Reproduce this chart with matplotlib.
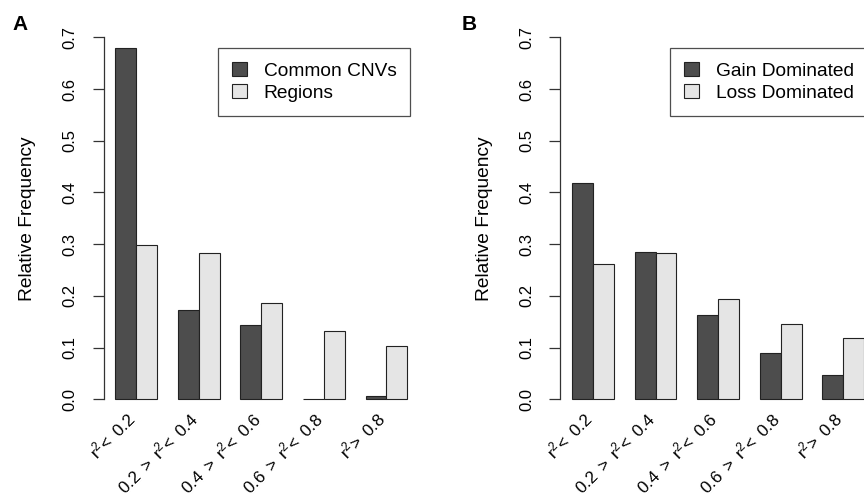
import matplotlib
matplotlib.use("Agg")
import matplotlib.pyplot as plt
import matplotlib.transforms as mtransforms
import numpy as np

plt.rcParams['font.family'] = ['Liberation Sans', 'DejaVu Sans']
plt.rcParams['mathtext.fontset'] = 'custom'
plt.rcParams['mathtext.rm'] = 'Liberation Sans'
plt.rcParams['mathtext.it'] = 'Liberation Sans'

categories = [r'$\mathregular{r^2\!<\ 0.2}$',
              r'$\mathregular{0.2\ >\ r^2\!<\ 0.4}$',
              r'$\mathregular{0.4\ >\ r^2\!<\ 0.6}$',
              r'$\mathregular{0.6\ >\ r^2\!<\ 0.8}$',
              r'$\mathregular{r^2\!>\ 0.8}$']

a_common = [0.679, 0.172, 0.144, 0.0, 0.007]
a_regions = [0.298, 0.282, 0.187, 0.133, 0.103]
b_gain = [0.419, 0.284, 0.163, 0.090, 0.047]
b_loss = [0.262, 0.283, 0.194, 0.146, 0.118]

yticks = [0.0, 0.1, 0.2, 0.3, 0.4, 0.5, 0.6, 0.7]
ytick_labels = ['0.0', '0.1', '0.2', '0.3', '0.4', '0.5', '0.6', '0.7']

DARK = '#4d4d4d'
LIGHT = '#e5e5e5'
EDGE = '#222222'

W, H = 864, 500
fig = plt.figure(figsize=(W / 100, H / 100), dpi=100)

def px_axes(left, top, right, bottom):
    return fig.add_axes([left / W, 1 - bottom / H, (right - left) / W, (bottom - top) / H])

def panel(ax, s1, s2, labels, legend_left):
    n = len(s1)
    centers = np.arange(n) * 3 + 2.0
    ax.bar(centers - 0.5, s1, width=1, color=DARK, edgecolor=EDGE, linewidth=0.8, label=labels[0])
    ax.bar(centers + 0.5, s2, width=1, color=LIGHT, edgecolor=EDGE, linewidth=0.8, label=labels[1])
    ax.set_xlim(0.44, 15.56)
    ax.set_ylim(-0.028, 0.728)
    for s in ['top', 'right', 'bottom']:
        ax.spines[s].set_visible(False)
    ax.spines['left'].set_bounds(0, 0.7)
    ax.spines['left'].set_linewidth(0.9)
    ax.spines['left'].set_color('#333333')
    ax.set_yticks(yticks)
    ax.set_yticklabels(ytick_labels, rotation=90, va='center', fontsize=12)
    ax.tick_params(axis='y', length=8, width=0.9, color='#333333', pad=11)
    ax.set_xticks(centers)
    ax.set_xticklabels(categories, rotation=45, ha='right', va='center',
                       rotation_mode='anchor', fontsize=12.3)
    ax.tick_params(axis='x', length=0, pad=2)
    shift = mtransforms.ScaledTranslation(-4 / 100, 1 / 100, fig.dpi_scale_trans)
    for lbl in ax.get_xticklabels():
        lbl.set_transform(lbl.get_transform() + shift)
    ax.set_ylabel('Relative Frequency', fontsize=13.8)
    ax.yaxis.set_label_coords(-0.215, 0.5)
    leg = ax.legend(loc='upper left',
                    bbox_to_anchor=(legend_left / W, 1 - 48 / H),
                    bbox_transform=fig.transFigure,
                    fontsize=13.8, frameon=True, fancybox=False,
                    handlelength=0.78, handleheight=0.78, handletextpad=0.88,
                    borderpad=0.72, labelspacing=0.22, borderaxespad=0)
    leg.get_frame().set_edgecolor('#222222')
    leg.get_frame().set_linewidth(0.9)
    for hnd in leg.legend_handles:
        hnd.set_edgecolor(EDGE)

axA = px_axes(103.6, 22.8, 419.0, 413.8)
panel(axA, a_common, a_regions, ['Common CNVs', 'Regions'], 218)
axB = px_axes(560.4, 22.8, 875.8, 413.8)
panel(axB, b_gain, b_loss, ['Gain Dominated', 'Loss Dominated'], 670)

fig.text(12 / W, 1 - 25 / H, 'A', fontsize=15, fontweight='bold', va='center', ha='left')
fig.text(462 / W, 1 - 25 / H, 'B', fontsize=15, fontweight='bold', va='center', ha='left')

fig.savefig('out.png', dpi=100)
